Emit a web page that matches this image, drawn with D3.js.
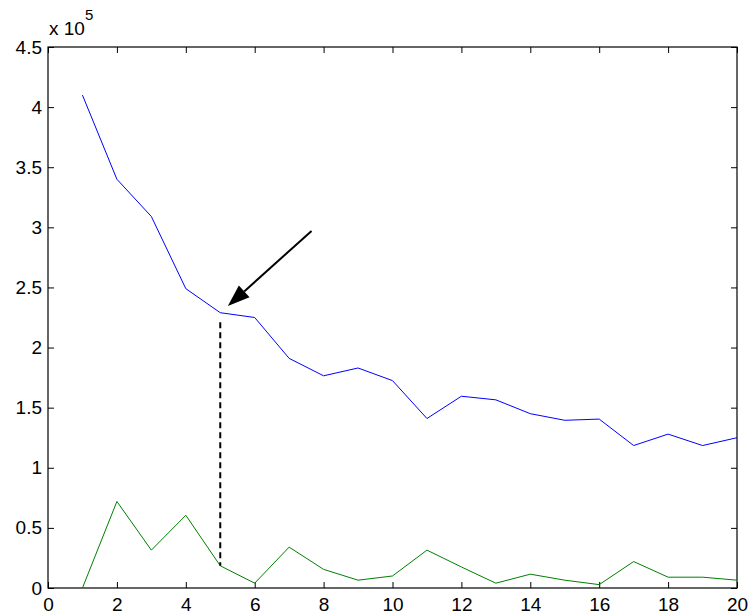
<!DOCTYPE html>
<html>
<head>
<meta charset="utf-8">
<script src="https://cdn.jsdelivr.net/npm/d3@7"></script>
<style>
  body { margin: 0; background: #fff; }
  svg { display: block; }
  .axis text { font-family: "Liberation Sans", Arial, sans-serif; font-size: 19px; fill: #000; }
  .axis line { stroke: #000; }
</style>
</head>
<body>
<svg id="chart"></svg>
<script>
// x positions (iteration) and the two series
const xValues = [1, 2, 3, 4, 5, 6, 7, 8, 9, 10, 11, 12, 13, 14, 15, 16, 17, 18, 19, 20];
const blueSeries = [410000, 340000, 309000, 249000, 229000, 225000, 191000, 176500, 183000, 172500,
                    141000, 159500, 156500, 145000, 139500, 140500, 118500, 128000, 118500, 125000];
const greenSeries = [0, 72000, 31500, 60500, 18500, 4000, 34000, 15500, 6500, 10000,
                     31500, 17500, 4000, 11500, 6500, 2800, 22000, 9000, 9000, 6500];
const xTicks = [0, 2, 4, 6, 8, 10, 12, 14, 16, 18, 20];
const yTicks = [0, 50000, 100000, 150000, 200000, 250000, 300000, 350000, 400000, 450000];

// annotation: dashed drop line at x=5 and arrow pointing at the knee
const dropLine = { x: 5, y0: 221000, y1: 18500 };
const arrow = { x0: 7.65, y0: 297000, x1: 5.22, y1: 234500 };

const config = {
    width: 750,
    height: 615,
    margin: { top: 47, right: 13, bottom: 27, left: 48 }
};

const innerW = config.width - config.margin.left - config.margin.right;
const innerH = config.height - config.margin.top - config.margin.bottom;

const svg = d3.select("#chart")
    .attr("width", config.width)
    .attr("height", config.height);

const chart = svg.append("g")
    .attr("transform", `translate(${config.margin.left},${config.margin.top})`);

const xScale = d3.scaleLinear().domain([0, 20]).range([0, innerW]);
const yScale = d3.scaleLinear().domain([0, 450000]).range([innerH, 0]);

const fmtY = d => d3.format("~g")(d / 1e5);

// axes, ticks pointing inward like MATLAB
chart.append("g")
    .attr("class", "axis")
    .attr("transform", `translate(0,${innerH})`)
    .call(d3.axisBottom(xScale).tickValues(xTicks).tickSizeInner(-6).tickSizeOuter(0).tickPadding(10))
    .call(g => g.select(".domain").remove());

chart.append("g")
    .attr("class", "axis")
    .call(d3.axisLeft(yScale).tickValues(yTicks).tickFormat(fmtY).tickSizeInner(-6).tickSizeOuter(0).tickPadding(6))
    .call(g => g.select(".domain").remove());

chart.append("g")
    .attr("class", "axis")
    .call(d3.axisTop(xScale).tickValues(xTicks).tickFormat("").tickSizeInner(-6).tickSizeOuter(0))
    .call(g => g.select(".domain").remove());

chart.append("g")
    .attr("class", "axis")
    .attr("transform", `translate(${innerW},0)`)
    .call(d3.axisRight(yScale).tickValues(yTicks).tickFormat("").tickSizeInner(-6).tickSizeOuter(0))
    .call(g => g.select(".domain").remove());

// box
chart.append("rect")
    .attr("width", innerW)
    .attr("height", innerH)
    .attr("fill", "none")
    .attr("stroke", "#000")
    .attr("stroke-width", 1.2);

// exponent label
const expLabel = svg.append("text")
    .attr("x", config.margin.left + 1)
    .attr("y", 35)
    .attr("font-family", "Liberation Sans, Arial, sans-serif")
    .attr("font-size", 19);
expLabel.append("tspan").text("x 10");
expLabel.append("tspan").attr("dy", -15).attr("font-size", 15).text("5");

// series lines
const line = d3.line()
    .x((d, i) => xScale(xValues[i]))
    .y(d => yScale(d));

chart.append("path")
    .datum(blueSeries)
    .attr("fill", "none")
    .attr("stroke", "#0000ff")
    .attr("stroke-width", 1)
    .attr("d", line);

chart.append("path")
    .datum(greenSeries)
    .attr("fill", "none")
    .attr("stroke", "#008000")
    .attr("stroke-width", 1)
    .attr("d", line);

// dashed drop line
chart.append("line")
    .attr("x1", xScale(dropLine.x))
    .attr("x2", xScale(dropLine.x))
    .attr("y1", yScale(dropLine.y0))
    .attr("y2", yScale(dropLine.y1))
    .attr("stroke", "#000")
    .attr("stroke-width", 2)
    .attr("stroke-dasharray", "6,4");

// arrow
const ax0 = xScale(arrow.x0), ay0 = yScale(arrow.y0);
const ax1 = xScale(arrow.x1), ay1 = yScale(arrow.y1);
const ang = Math.atan2(ay1 - ay0, ax1 - ax0);
const headLen = 22, headHalf = 8;
const bx = ax1 - headLen * Math.cos(ang), by = ay1 - headLen * Math.sin(ang);

chart.append("line")
    .attr("x1", ax0).attr("y1", ay0)
    .attr("x2", bx).attr("y2", by)
    .attr("stroke", "#000")
    .attr("stroke-width", 2);

chart.append("polygon")
    .attr("points", [
        [ax1, ay1],
        [bx + headHalf * Math.sin(ang), by - headHalf * Math.cos(ang)],
        [bx - headHalf * Math.sin(ang), by + headHalf * Math.cos(ang)]
    ].map(p => p.join(",")).join(" "))
    .attr("fill", "#000");
</script>
</body>
</html>
